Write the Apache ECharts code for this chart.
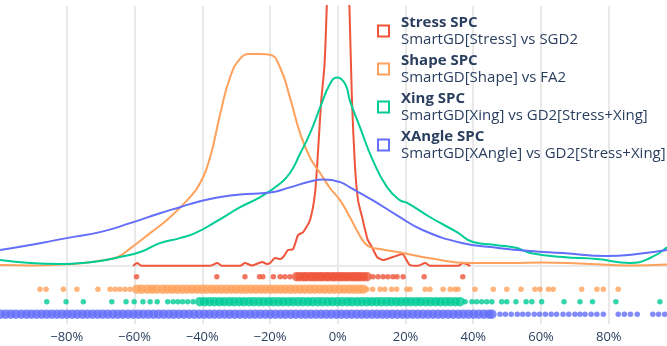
<!DOCTYPE html>
<html><head><meta charset="utf-8">
<script src="https://cdn.jsdelivr.net/npm/echarts@6/dist/echarts.min.js"></script>
<style>html,body{margin:0;padding:0;background:#fff}#c{width:667px;height:346px}</style>
</head><body><div id="c"></div>
<script>
// ---- data (x in %, y = density, arbitrary scale) ----
const seriesNames = ['Stress SPC', 'Shape SPC', 'Xing SPC', 'XAngle SPC'];
const seriesSubtitles = ['SmartGD[Stress] vs SGD2', 'SmartGD[Shape] vs FA2', 'SmartGD[Xing] vs GD2[Stress+Xing]', 'SmartGD[XAngle] vs GD2[Stress+Xing]'];
const xTicks = [-80, -60, -40, -20, 0, 20, 40, 60, 80];

const stressKDE = [[-60.4,0],[-59.2,0.46],[-58.0,0.05],[-37.6,0.05],[-35.6,0.46],[-34.2,0.05],[-28.8,0.05],[-27.4,0.46],[-25.3,0.08],[-22.3,0.61],[-20.9,0.31],[-20.0,0.46],[-18.5,1.23],[-17.0,1.07],[-16.1,1.38],[-14.7,2.45],[-13.2,2.6],[-11.7,4.75],[-10.2,5.21],[-8.2,7.05],[-6.7,11.2],[-5.8,17.8],[-4.9,25.3],[-3.9,31.0],[-3.0,44.0],[-1.7,69],[0.1,92],[1.8,69],[3.3,42.9],[4.2,25.4],[5.1,15.2],[6.0,10.1],[7.2,7.5],[8.8,4.1],[10.1,2.9],[11.6,1.38],[13.4,0.92],[16.3,1.38],[19.0,1.84],[21.3,0.15],[23.7,0.05],[25.8,0.46],[27.2,0.05],[35.5,0.05],[37.0,0.46],[39.1,0]];
const shapeKDE = [[-99.7,0.15],[-89.9,0.08],[-80.0,0.26],[-74.9,0.46],[-69.8,0.85],[-64.9,1.38],[-61.9,2.45],[-55.4,5.06],[-49.5,7.51],[-43.6,10.6],[-40.7,12.7],[-37.7,16.7],[-34.7,23.4],[-31.8,29.0],[-28.8,31.9],[-25.9,32.6],[-22.9,32.6],[-20.0,32.5],[-17.0,30.5],[-14.1,25.9],[-11.1,20.4],[-8.2,16.7],[-5.2,14.3],[-2.3,12.0],[0.7,10.1],[3.6,7.5],[6.6,4.6],[8.9,3.1],[12.5,2.6],[19.3,2.0],[27.2,1.2],[39.0,0.46],[50.9,0.46],[60.6,0.54],[71.5,0.38],[86.3,0.08],[97.2,0.23]];
const xingKDE = [[-99.7,0.92],[-90.8,0.46],[-81.9,0.31],[-76.0,0.46],[-70.2,0.77],[-64.3,1.38],[-58.3,2.15],[-52.5,3.52],[-46.6,4.29],[-42.1,5.06],[-36.2,6.74],[-28.8,9.04],[-22.9,10.6],[-17.0,12.7],[-14.1,14.3],[-11.1,17.3],[-8.2,20.4],[-5.2,24.4],[-2.3,28.0],[-0.2,29.0],[2.2,28.0],[3.6,25.4],[6.6,21.3],[10.4,16.2],[14.6,12.1],[18.4,10.1],[20.5,9.7],[27.3,7.5],[35.2,5.2],[39.9,3.7],[47.0,3.2],[52.6,2.8],[56.8,2.0],[66.5,1.38],[76.5,1.07],[86.3,0.46],[92.2,1.23],[97.2,2.9]];
const xangleKDE = [[-99.7,2.45],[-90.8,3.22],[-80.0,4.29],[-70.2,5.21],[-61.3,6.59],[-52.5,8.12],[-46.6,9.04],[-40.7,9.96],[-34.7,10.6],[-28.8,11.0],[-20.0,11.3],[-14.1,12.1],[-8.2,13.0],[-4.3,13.3],[0.7,12.9],[3.6,12.1],[6.6,11.2],[10.4,10.1],[17.5,7.8],[25.2,5.5],[37.0,3.5],[47.0,2.8],[56.8,2.3],[66.5,2.0],[79.5,1.53],[88.4,1.84],[97.2,2.45]];

// rug samples: sparse (isolated) and dense (packed band) positions, in %
const stressRugSparse = [-59.4,-35.7,-27.4,-23.1,-22.1,-19.0,-17.0,-15.6,-14.1,10.4,11.9,13.4,14.8,16.3,17.5,19.3,25.5,36.9];
const stressRugDense = [-12.1,-11.2,-10.1,-9.3,-8.2,-7.3,-6.4,-5.4,-4.6,-3.5,-2.7,-1.6,-0.8,0.3,1.2,2.1,3.0,4.1,4.9,5.8,6.6,7.6,8.6];
const shapeRugSparse = [-87.9,-86.1,-81.0,-77.0,-70.8,-67.2,-65.7,-64.3,-62.8,-61.3,8.6,10.3,12.5,13.9,15.9,17.4,20.4,21.3,25.8,27.2,31.1,33.2,34.6,35.5,40.5,45.9,49.9,54.1,58.2,59.7,62.2,63.6,72.0,76.5,78.4,82.8];
const shapeRugDense = [-59.3,-57.9,-56.2,-54.8,-53.4,-51.7,-50.3,-48.8,-47.4,-45.9,-44.5,-43.0,-41.6,-40.1,-38.7,-37.2,-35.8,-34.3,-32.9,-31.4,-30.0,-28.5,-27.1,-25.6,-24.2,-22.7,-21.3,-19.8,-18.4,-16.9,-15.5,-14.0,-12.6,-11.1,-9.7,-8.2,-6.8,-5.3,-3.9,-2.4,-1.0,0.5,1.9,3.4,4.8,6.2,7.5];
const xingRugSparse = [-85.9,-80.2,-75.1,-66.7,-62.5,-60.1,-57.5,-55.4,-53.3,-50.2,-48.6,-47.2,-45.8,-44.3,-42.7,37.6,39.6,41.0,42.5,44.0,45.5,48.4,49.9,52.6,55.6,57.3,60.2,66.8,71.5,75.2,82.1,95.1];
const xingRugDense = [-40.7,-39.3,-37.8,-36.4,-34.9,-33.5,-32.0,-30.6,-29.1,-27.7,-26.2,-24.8,-23.3,-21.9,-20.4,-19.0,-17.5,-16.1,-14.6,-13.2,-11.7,-10.3,-8.8,-7.4,-5.9,-4.5,-3.0,-1.6,-0.1,1.3,2.8,4.2,5.7,7.1,8.6,10.0,11.5,12.9,14.4,15.8,17.3,18.7,20.2,21.6,23.1,24.5,26.0,27.4,28.9,30.3,31.8,33.2,34.7,36.1];
const xangleRugSparse = [47.9,49.5,51.2,53.0,54.6,56.2,58.0,59.6,61.3,63.0,64.6,66.5,68.2,70.0,71.5,73.0,74.8,76.5,78.4,82.8,84.6,86.4,88.4,93.0,94.7,96.5];
const xangleRugDense = [-99.5,-98.0,-96.5,-95.0,-93.4,-91.9,-90.4,-88.9,-87.4,-85.9,-84.4,-82.9,-81.4,-79.9,-78.4,-76.9,-75.4,-73.9,-72.4,-70.9,-69.4,-67.9,-66.4,-64.9,-63.4,-61.9,-60.4,-58.9,-57.4,-55.9,-54.4,-52.9,-51.4,-49.9,-48.4,-46.9,-45.4,-43.9,-42.4,-40.9,-39.4,-37.9,-36.4,-34.9,-33.4,-31.9,-30.4,-28.9,-27.4,-25.9,-24.4,-22.9,-21.4,-19.9,-18.4,-16.9,-15.4,-13.9,-12.4,-10.9,-9.4,-7.9,-6.4,-4.9,-3.4,-1.9,-0.4,1.1,2.6,4.1,5.6,7.1,8.6,10.1,11.6,13.1,14.6,16.1,17.6,19.1,20.6,22.1,23.6,25.1,26.6,28.1,29.6,31.1,32.6,34.1,35.6,37.1,38.6,40.1,41.6,43.1,44.6,45.5];

// ---- styling ----
const colors = ['#EF553B', '#FFA15A', '#00CC96', '#636EFA'];
const kdes = [stressKDE, shapeKDE, xingKDE, xangleKDE];
const rugSparse = [stressRugSparse, shapeRugSparse, xingRugSparse, xangleRugSparse];
const rugDense = [stressRugDense, shapeRugDense, xingRugDense, xangleRugDense];
const FONT = '"Open Sans", verdana, arial, sans-serif';
const TXT = '#2a3f5f';
const GRIDC = '#e9e9e9';

const series = [];
kdes.forEach((d, i) => {
  series.push({
    name: seriesNames[i], type: 'line', xAxisIndex: 0, yAxisIndex: 0,
    data: d, showSymbol: false, smooth: i === 0 ? 0.2 : 0.5, clip: true,
    lineStyle: { color: colors[i], width: 2 }, itemStyle: { color: colors[i] },
    z: 3
  });
});
rugDense.forEach((d, i) => {
  series.push({
    name: seriesNames[i] + ' rug', type: 'scatter', xAxisIndex: 1, yAxisIndex: 1,
    data: d.map(v => [v, i]), symbolSize: 9.5,
    itemStyle: { color: colors[i] }, z: 2
  });
});
rugSparse.forEach((d, i) => {
  series.push({
    name: seriesNames[i] + ' rug', type: 'scatter', xAxisIndex: 1, yAxisIndex: 1,
    data: d.map(v => [v, i]), symbolSize: 5.5,
    itemStyle: { color: colors[i] }, z: 2
  });
});

const fmt = v => (v < 0 ? '\u2212' : '') + Math.abs(v) + '%';
const chart = echarts.init(document.getElementById('c'), null, { renderer: 'canvas' });
chart.setOption({
  animation: false,
  backgroundColor: '#fff',
  grid: [
    { left: -1, right: -9.5, top: 6, height: 260, outerBoundsMode: 'none', containLabel: false },
    { left: -1, right: -9.5, top: 266, height: 58, outerBoundsMode: 'none', containLabel: false }
  ],
  xAxis: [
    { type: 'value', gridIndex: 0, min: -100, max: 100, interval: 20,
      axisLabel: { show: false }, axisTick: { show: false },
      axisLine: { show: true, onZero: true, lineStyle: { color: GRIDC, width: 2 } },
      splitLine: { show: true, lineStyle: { color: GRIDC, width: 2 } } },
    { type: 'value', gridIndex: 1, min: -100, max: 100, interval: 20,
      axisTick: { show: false }, axisLine: { show: false },
      splitLine: { show: true, lineStyle: { color: GRIDC, width: 2 } },
      axisLabel: { show: true, margin: 7, color: TXT, fontSize: 13, fontFamily: FONT,
        showMinLabel: false, showMaxLabel: false,
        formatter: v => xTicks.indexOf(v) >= 0 ? fmt(v) : '' } }
  ],
  yAxis: [
    { type: 'value', gridIndex: 0, min: 0, max: 40, show: false, splitLine: { show: false } },
    { type: 'value', gridIndex: 1, min: -0.85, max: 3.78, inverse: true, show: false, splitLine: { show: false } }
  ],
  legend: {
    orient: 'vertical', left: 377, top: 14, padding: 0, itemGap: 4,
    itemWidth: 11, itemHeight: 11, selectedMode: false,
    data: seriesNames.map((n, i) => ({ name: n, icon: 'rect',
      itemStyle: { color: '#fff', borderColor: colors[i], borderWidth: 2 } })),
    formatter: n => '{t|' + n + '}\n{s|' + seriesSubtitles[seriesNames.indexOf(n)] + '}',
    textStyle: {
      padding: [0, 0, 0, 7], lineHeight: 17,
      rich: {
        t: { fontFamily: FONT, fontSize: 15, fontWeight: 'bold', color: TXT, lineHeight: 17 },
        s: { fontFamily: FONT, fontSize: 15, color: TXT, lineHeight: 17 }
      }
    }
  },
  series: series
});
</script></body></html>
